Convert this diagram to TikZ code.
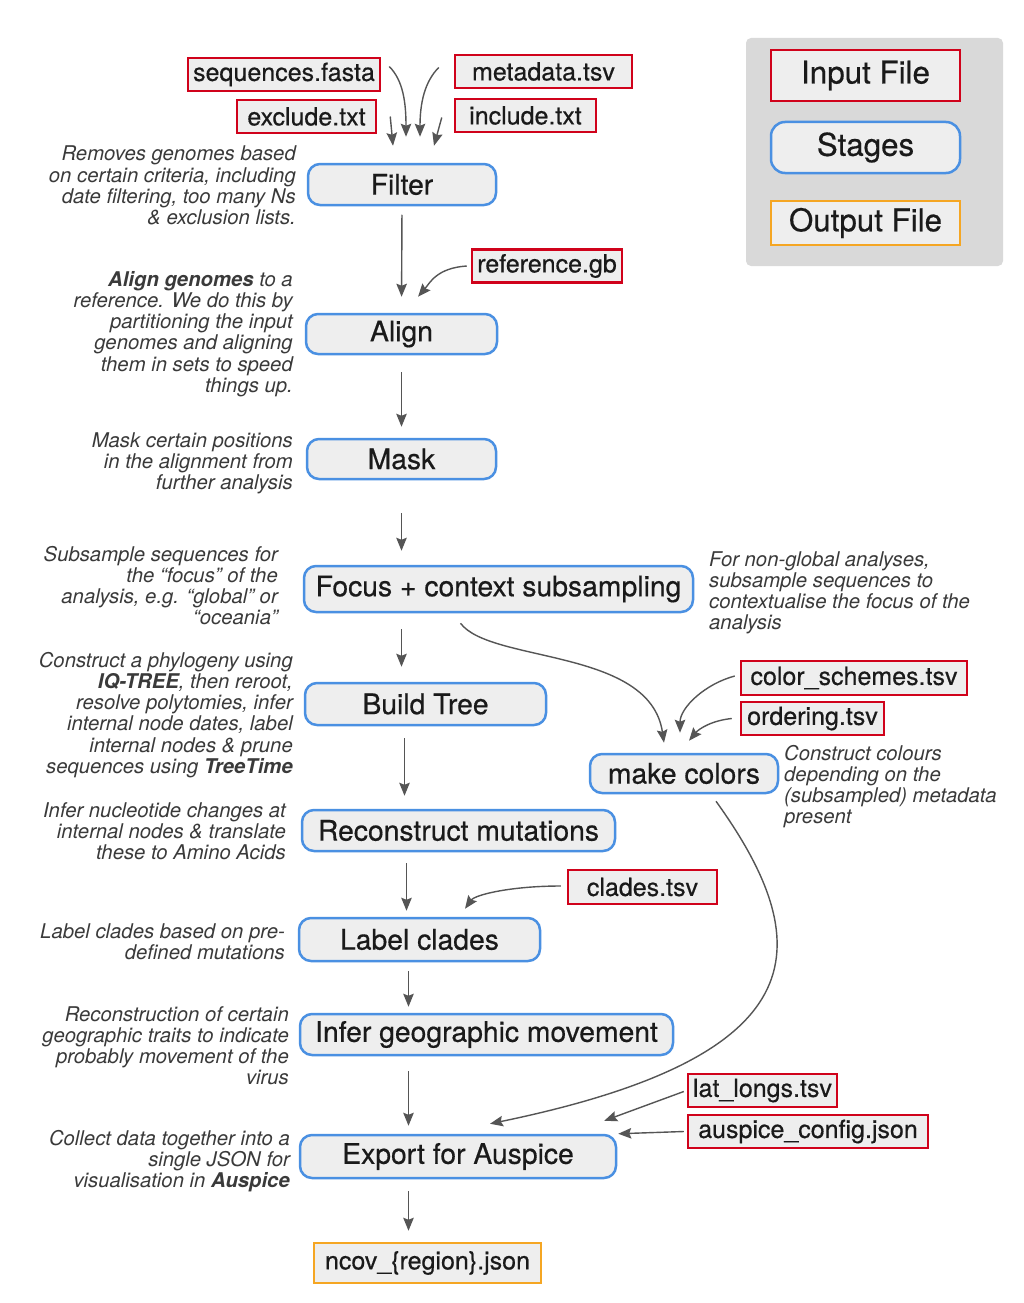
\documentclass[tikz,border=0pt]{standalone}
\usepackage{fontspec}
\setmainfont{TeX Gyre Heros}
\newfontfamily\medfont{TeX Gyre Heros}[FakeBold=0.5]
\usetikzlibrary{arrows.meta,calc}
\definecolor{inred}{HTML}{D0021B}
\definecolor{stblue}{HTML}{4A90E2}
\definecolor{outorange}{HTML}{F5A623}
\definecolor{boxfill}{HTML}{EEEEEE}
\definecolor{legendgray}{HTML}{D9D9D9}
\definecolor{arrgray}{HTML}{555555}
\definecolor{desccol}{HTML}{3A3A3A}
\definecolor{boxtext}{HTML}{1A1A1A}
\newcommand\fstage{\medfont\fontsize{28.3}{32}\selectfont}
\newcommand\ffile{\medfont\fontsize{25}{28}\selectfont}
\newcommand\flegend{\medfont\fontsize{31.3}{34}\selectfont}
\newcommand\fdesc{\fontsize{20.3}{21.2}\selectfont\itshape}
\tikzset{
  filebox/.style={draw=inred, line width=2.5pt, fill=boxfill, text=boxtext, font=\ffile, minimum height=33pt, inner sep=2pt},
  outbox/.style={draw=outorange, line width=2.5pt, fill=boxfill, text=boxtext, font=\ffile, inner sep=2pt},
  stagebox/.style={draw=stblue, line width=2.5pt, fill=boxfill, text=boxtext, rounded corners=12pt, font=\fstage, inner sep=2pt},
  desc/.style={font=\fdesc, text=desccol, inner sep=0pt},
  arr/.style={draw=arrgray, line width=1.4pt, -{Stealth[length=13pt,width=10.5pt,inset=2pt]}},
}
\begin{document}
\begin{tikzpicture}[x=1pt,y=1pt]
\useasboundingbox (0,0) rectangle (1024,-1303);
\fill[white] (0,0) rectangle (1024,-1303);

% legend
\node[fill=legendgray, rounded corners=5pt, minimum width=257pt, minimum height=228pt, inner sep=0pt] (legend) at (874.5,-152) {};
\node[filebox, font=\flegend, minimum width=189pt, minimum height=51pt] (lin) at (865.5,-75.5) {Input File};
\node[stagebox, font=\flegend, rounded corners=14pt, minimum width=189pt, minimum height=51pt] (lst) at (865.5,-147.5) {Stages};
\node[outbox, font=\flegend, minimum width=189pt, minimum height=44pt] (lout) at (865.5,-223) {Output File};

% input files
\node[filebox, minimum width=192pt] (seq) at (284,-74.5) {sequences.fasta};
\node[filebox, minimum width=177pt] (meta) at (543.5,-71.5) {metadata.tsv};
\node[filebox, minimum width=139pt] (excl) at (306.5,-116.5) {exclude.txt};
\node[filebox, minimum width=141pt] (incl) at (525.5,-115.5) {include.txt};
\node[filebox, minimum width=150pt] (ref) at (547,-266) {reference.gb};
\node[filebox, minimum width=226pt, minimum height=34pt] (cs) at (854,-678) {color\_schemes.tsv};
\node[filebox, minimum width=143pt] (ord) at (812.5,-718.5) {ordering.tsv};
\node[filebox, minimum width=149pt, minimum height=34pt] (clades) at (642.5,-887) {clades.tsv};
\node[filebox, minimum width=149pt] (latl) at (762.5,-1090.5) {lat\_longs.tsv};
\node[filebox, minimum width=240pt] (acfg) at (808,-1131.5) {auspice\_config.json};
\node[outbox, minimum width=227pt, minimum height=40pt] (ncov) at (427.5,-1263) {ncov\_\{region\}.json};

% stages
\node[stagebox, minimum width=188pt, minimum height=41pt] (filter) at (402,-184.5) {Filter};
\node[stagebox, minimum width=191pt, minimum height=40pt] (align) at (401.5,-334) {Align};
\node[stagebox, minimum width=189pt, minimum height=40pt] (mask) at (401.5,-459) {Mask};
\node[stagebox, minimum width=389pt, minimum height=46pt] (focus) at (498.5,-589) {Focus + context subsampling};
\node[stagebox, minimum width=241pt, minimum height=42pt] (build) at (425.5,-704) {Build Tree};
\node[stagebox, minimum width=188pt, minimum height=39pt] (colors) at (684,-773.5) {make colors};
\node[stagebox, minimum width=313pt, minimum height=41pt] (recon) at (458.5,-830.5) {Reconstruct mutations};
\node[stagebox, minimum width=241pt, minimum height=43pt] (label) at (419.5,-939.5) {Label clades};
\node[stagebox, minimum width=373pt, minimum height=41pt] (infer) at (486.5,-1034.5) {Infer geographic movement};
\node[stagebox, minimum width=316pt, minimum height=43pt] (export) at (458,-1156.5) {Export for Auspice};

% descriptions
\node[desc, anchor=north east, align=right] (dfilter) at (296,-146) {Removes genomes based\\on certain criteria, including\\date filtering, too many Ns\\\& exclusion lists.};
\node[desc, anchor=north east, align=right] (dalign) at (293,-271) {\textbf{Align genomes} to a\\reference. We do this by\\partitioning the input\\genomes and aligning\\them in sets to speed\\things up.};
\node[desc, anchor=north east, align=right] (dmask) at (293,-432) {Mask certain positions\\in the alignment from\\further analysis};
\node[desc, anchor=north east, align=right] (dfocus) at (278,-546) {Subsample sequences for\\the “focus” of the\\analysis, e.g. “global” or\\“oceania”};
\node[desc, anchor=north west, align=left] (dfocus2) at (709,-551) {For non-global analyses,\\subsample sequences to\\contextualise the focus of the\\analysis};
\node[desc, anchor=north east, align=right] (dbuild) at (293,-652) {Construct a phylogeny using\\\textbf{IQ-TREE}, then reroot,\\resolve polytomies, infer\\internal node dates, label\\internal nodes \& prune\\sequences using \textbf{TreeTime}};
\node[desc, anchor=north west, align=left] (dcolors) at (784,-745) {Construct colours\\depending on the\\(subsampled) metadata\\present};
\node[desc, anchor=north east, align=right] (drecon) at (286,-802) {Infer nucleotide changes at\\internal nodes \& translate\\these to Amino Acids};
\node[desc, anchor=north east, align=right] (dlabel) at (285,-923) {Label clades based on pre-\\defined mutations};
\node[desc, anchor=north east, align=right] (dinfer) at (289,-1006) {Reconstruction of certain\\geographic traits to indicate\\probably movement of the\\virus};
\node[desc, anchor=north east, align=right] (dexport) at (290,-1130) {Collect data together into a\\single JSON for\\visualisation in \textbf{Auspice}};

% connectors into Filter
\draw[arr] ([xshift=8pt,yshift=8pt]seq.east) .. controls +(14,-14) and +(0,34) .. ([xshift=4pt,yshift=26pt]filter.north);
\draw[arr] ([xshift=-15pt,yshift=4pt]meta.west) .. controls +(-14,-14) and +(0,34) .. ([xshift=18pt,yshift=26pt]filter.north);
\draw[arr] ([xshift=13pt]excl.east) -- ([xshift=-9pt,yshift=17pt]filter.north);
\draw[arr] ([xshift=-12pt,yshift=-2pt]incl.west) -- ([xshift=32pt,yshift=17pt]filter.north);

% main chain
\draw[arr, shorten <=8.5pt, shorten >=16pt] (filter.south) -- (align.north);
\draw[arr] ([xshift=-4pt]ref.west) .. controls +(-30,-2) and +(12,14) .. ([xshift=16.5pt,yshift=16pt]align.north);
\draw[arr, shorten <=17pt, shorten >=11pt] (align.south) -- (mask.north);
\draw[arr, shorten <=33pt, shorten >=14pt] (mask.south) -- (mask.south |- focus.north);
\draw[arr, shorten <=16pt, shorten >=15pt] (mask.south |- focus.south) -- (mask.south |- build.north);
\draw[arr, shorten <=12pt, shorten >=13pt] ([xshift=-21pt]build.south) -- ([xshift=-21pt]build.south |- recon.north);
\draw[arr, shorten <=11pt, shorten >=6pt] ([xshift=-13pt]label.north |- recon.south) -- ([xshift=-13pt]label.north);
\draw[arr, shorten <=9pt, shorten >=6pt] ([xshift=-11pt]label.south) -- ([xshift=-11pt]label.south |- infer.north);
\draw[arr, shorten <=15pt, shorten >=8pt] ([xshift=-11pt]label.south |- infer.south) -- ([xshift=-11pt]label.south |- export.north);
\draw[arr, shorten <=12pt, shorten >=11pt] ([xshift=-11pt]label.south |- export.south) -- ([xshift=-11pt]label.south |- ncov.north);

% side inputs
\draw[arr] ([xshift=-38pt,yshift=-10pt]focus.south) .. controls +(30,-40) and +(-14,95) .. ([xshift=-20pt,yshift=10pt]colors.north);
\draw[arr] ([xshift=-5pt,yshift=2pt]cs.west) .. controls +(-30,-8) and +(0,25) .. ([xshift=-4pt,yshift=20pt]colors.north);
\draw[arr] ([xshift=-8pt]ord.west) .. controls +(-20,-2) and +(10,12) .. ([xshift=5pt,yshift=12pt]colors.north);
\draw[arr] ([xshift=-6pt,yshift=1pt]clades.west) .. controls +(-50,0) and +(10,14) .. ([xshift=45.5pt,yshift=8pt]label.north);
\draw[arr] ([xshift=32pt,yshift=-7pt]colors.south) .. controls +(108,-150) and +(320,66) .. ([xshift=32pt,yshift=10pt]export.north);
\draw[arr] ([xshift=-3pt,yshift=-1pt]latl.west) -- ([xshift=-13pt,yshift=13pt]export.north east);
\draw[arr] ([xshift=-3pt]acfg.west) -- ([xshift=1pt,yshift=0pt]export.north east);
\end{tikzpicture}
\end{document}
